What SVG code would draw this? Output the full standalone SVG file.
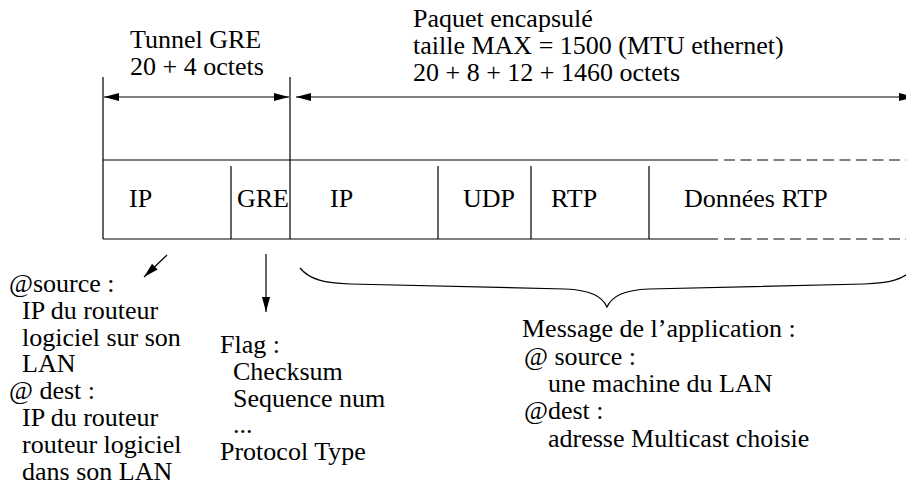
<svg xmlns="http://www.w3.org/2000/svg" width="906" height="503" viewBox="0 0 906 503">
<style>
text{font-family:'Liberation Serif','Tinos','Times New Roman',serif;font-size:26px;fill:#000}
.ln{stroke:#000;stroke-width:1.2;fill:none}
.dash{stroke:#000;stroke-width:1.2;fill:none;stroke-dasharray:11 5.5}
.arr{stroke:#000;stroke-width:1.2;fill:none;marker-end:url(#ah)}
.arr2{stroke:#000;stroke-width:1.2;fill:none;marker-start:url(#ah);marker-end:url(#ah)}
</style>
<defs>
<marker id="ah" viewBox="0 0 15 8" refX="15" refY="4" markerWidth="15" markerHeight="8" orient="auto-start-reverse" markerUnits="userSpaceOnUse">
<path d="M0,0 L15,4 L0,8 z" fill="#000"/>
</marker>
</defs>
<rect width="906" height="503" fill="#fff"/>
<g id="tunnel-label">
<text x="130" y="48">Tunnel GRE</text>
<text x="130" y="75">20 + 4 octets</text>
</g>
<g id="paquet-label">
<text x="413" y="27">Paquet encapsulé</text>
<text x="413" y="54">taille MAX = 1500 (MTU ethernet)</text>
<text x="413" y="81">20 + 8 + 12 + 1460 octets</text>
</g>

<g id="packet">
<path class="ln" d="M103,77 V239 M290,77 V239 M103,160 H718 M103,239 H718 M231,166 V239 M438,166 V239 M531,166 V239 M649,166 V239"/>
<path class="dash" d="M724,160 H906 M724,239 H906"/>
</g>
<g id="f-ip1"><text x="129" y="207">IP</text></g>
<g id="f-gre"><text x="237" y="207">GRE</text></g>
<g id="f-ip2"><text x="330" y="207">IP</text></g>
<g id="f-udp"><text x="463" y="207">UDP</text></g>
<g id="f-rtp"><text x="551" y="207">RTP</text></g>
<g id="f-data"><text x="684" y="207">Données RTP</text></g>

<g id="note-ip">
<text x="9" y="292">@source :</text>
<text x="22" y="319">IP du routeur</text>
<text x="22" y="346">logiciel sur son</text>
<text x="22" y="372">LAN</text>
<text x="9" y="399">@ dest :</text>
<text x="22" y="426">IP du routeur</text>
<text x="22" y="453">routeur logiciel</text>
<text x="22" y="480">dans son LAN</text>
</g>
<g id="note-gre">
<text x="220" y="353">Flag :</text>
<text x="233" y="380">Checksum</text>
<text x="233" y="407">Sequence num</text>
<text x="233" y="433">...</text>
<text x="220" y="460">Protocol Type</text>
</g>
<g id="note-app">
<text x="522" y="337">Message de l’application :</text>
<text x="524" y="365">@ source :</text>
<text x="548" y="392">une machine du LAN</text>
<text x="524" y="419">@dest :</text>
<text x="548" y="447">adresse Multicast choisie</text>
</g>
<g id="connectors">
<path class="arr2" d="M104,97 H289"/>
<path class="arr2" d="M296,97 H914"/>
<path class="arr" d="M167,255 L144,277"/>
<path class="arr" d="M266,254 V312"/>
<path class="ln" d="M300,268 C310,280 325,283 350,284 L565,289 C590,290 602,296 607,307 C612,296 624,290 649,289 L864,284 C889,283 904,280 914,268"/>
</g>
</svg>
